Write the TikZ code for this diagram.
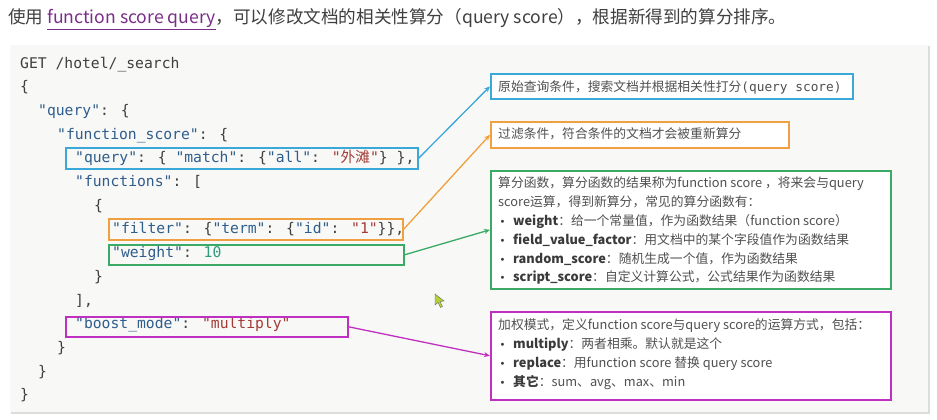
\documentclass[tikz,border=0pt]{standalone}
\usepackage{fontspec}
\setmainfont{Noto Sans CJK SC}
\newfontfamily\codefont{DejaVu Sans Mono}
\newfontfamily\cjkfont{Noto Sans CJK SC}
\newfontfamily\symfont{DejaVu Sans}
\usetikzlibrary{arrows.meta}
\definecolor{panelbg}{HTML}{F8F8F6}
\definecolor{panelshadow}{HTML}{DCDCDA}
\definecolor{keyc}{HTML}{2F5D8C}
\definecolor{punctc}{HTML}{3F3F3F}
\definecolor{strc}{HTML}{A23B36}
\definecolor{numc}{HTML}{2E9A80}
\definecolor{cblue}{HTML}{3AA8D8}
\definecolor{corange}{HTML}{F0A040}
\definecolor{cgreen}{HTML}{3BAA66}
\definecolor{cmag}{HTML}{C030C0}
\definecolor{linkc}{HTML}{7A2E88}
\definecolor{txtc}{HTML}{505050}
\definecolor{boldc}{HTML}{3A3A3A}
\newcommand\codekey[1]{\textcolor{keyc}{#1}}
\newcommand\codestr[1]{\textcolor{strc}{#1}}
\newcommand\codenum[1]{\textcolor{numc}{#1}}
\newcommand\bul{\makebox[15pt][l]{\hspace{1.5pt}\textcolor{boldc}{\symfont\fontsize{10}{12}\selectfont •}}}
\newcommand\bterm[1]{\textcolor{boldc}{\bfseries #1}}
\begin{document}
\begin{tikzpicture}[x=1pt,y=-1pt,
  codeline/.style={anchor=base west, inner sep=0pt, font=\codefont\fontsize{14.7}{18}\selectfont, text=punctc},
  hlbox/.style={draw=#1, line width=1.6pt, anchor=north west, inner sep=0pt},
  notebox/.style={draw=#1, line width=1.6pt, fill=white, anchor=north west, inner sep=0pt},
  notetxt/.style={anchor=base west, inner sep=0pt, font=\fontsize{12.8}{15}\selectfont, text=txtc},
  link/.style={draw=#1, line width=1.3pt, -{Stealth[length=6pt,width=5pt]}},
]
\useasboundingbox (0,0) rectangle (937,420);
\fill[white] (0,0) rectangle (937,420);

% heading
\node[anchor=base west, inner sep=0pt, font=\fontsize{17.6}{20}\selectfont, text=punctc] (head) at (8,23.5)
  {使用 \textcolor{linkc}{\underline{function score query}}，可以修改文档的相关性算分（query score），根据新得到的算分排序。};

% code panel
\fill[panelshadow] (11,46.5) rectangle (929.5,414);
\fill[panelbg] (10,45) rectangle (927.5,412);

% code lines
\node[codeline] (l0) at (20,68) {GET /hotel/\_search};
\node[codeline] (l1) at (20,91.7) {\{};
\node[codeline] (l2) at (38,115.4) {\codekey{"query"}: \{};
\node[codeline] (l3) at (57,139.1) {\codekey{"function\_score"}: \{};
\node[codeline] (l4) at (75,162.8) {\codekey{"query"}: \{ \codekey{"match"}: \{\codekey{"all"}: \codestr{"{\cjkfont 外滩}"}\} \},};
\node[codeline] (l5) at (75,186.5) {\codekey{"functions"}: [};
\node[codeline] (l6) at (94,210.2) {\{};
\node[codeline] (l7) at (112,233.9) {\codekey{"filter"}: \{\codekey{"term"}: \{\codekey{"id"}: \codestr{"1"}\}\},};
\node[codeline] (l8) at (112,257.6) {\codekey{"weight"}: \codenum{10}};
\node[codeline] (l9) at (94,281.3) {\}};
\node[codeline] (l10) at (75,305) {],};
\node[codeline] (l11) at (75,328.7) {\codekey{"boost\_mode"}: \codestr{"multiply"}};
\node[codeline] (l12) at (57,352.4) {\}};
\node[codeline] (l13) at (38,376.1) {\}};
\node[codeline] (l14) at (20,399.8) {\}};

% highlight boxes in code
\node[hlbox=cblue, minimum width=352pt, minimum height=21pt] (qbox) at (65,147) {};
\node[hlbox=corange, minimum width=294pt, minimum height=21pt] (fbox) at (108,218) {};
\node[hlbox=cgreen, minimum width=295pt, minimum height=20pt] (wbox) at (108,244) {};
\node[hlbox=cmag, minimum width=282pt, minimum height=20pt] (bbox) at (65,316) {};

% note boxes
\node[notebox=cblue, minimum width=362pt, minimum height=25pt] (n1) at (490,73) {};
\node[notebox=corange, minimum width=298pt, minimum height=26pt] (n2) at (490,121) {};
\node[notebox=cgreen, minimum width=400pt, minimum height=118pt] (n3) at (490,170) {};
\node[notebox=cmag, minimum width=400pt, minimum height=88pt] (n4) at (490,311) {};

% note texts
\node[notetxt] (t1) at (498,91.8) {原始查询条件，搜索文档并根据相关性打分{\codefont\fontsize{12.8}{15}\selectfont (query score)}};
\node[notetxt] (t2) at (498,138.8) {过滤条件，符合条件的文档才会被重新算分};

\node[notetxt] (g1) at (498,187.8) {算分函数，算分函数的结果称为function score ，将来会与query};
\node[notetxt] (g2) at (498,206.6) {score运算，得到新算分，常见的算分函数有：};
\node[notetxt] (g3) at (498,225.4) {\bul\bterm{weight}：给一个常量值，作为函数结果（function score）};
\node[notetxt] (g4) at (498,244.2) {\bul\bterm{field\_value\_factor}：用文档中的某个字段值作为函数结果};
\node[notetxt] (g5) at (498,263) {\bul\bterm{random\_score}：随机生成一个值，作为函数结果};
\node[notetxt] (g6) at (498,281.8) {\bul\bterm{script\_score}：自定义计算公式，公式结果作为函数结果};

\node[notetxt] (m1) at (498,329.8) {加权模式，定义function score与query score的运算方式，包括：};
\node[notetxt] (m2) at (498,348.8) {\bul\bterm{multiply}：两者相乘。默认就是这个};
\node[notetxt] (m3) at (498,367.8) {\bul\bterm{replace}：用function score 替换 query score};
\node[notetxt] (m4) at (498,386.8) {\bul\bterm{其它}：sum、avg、max、min};

% connectors
\draw[link=cblue] (qbox.east) -- (n1.west);
\draw[link=corange] (fbox.east) -- (n2.west);
\draw[link=cgreen] (wbox.east) -- (n3.west);
\draw[link=cmag] (bbox.east) -- (n4.west);

% mouse cursor
\fill[draw=black!60, fill={rgb,255:red,180;green,210;blue,50}, line width=0.4pt]
  (435,294) -- (435,305) -- (438,302.5) -- (440.5,307.5) -- (442.5,306.5) -- (440,301.5) -- (444,301) -- cycle;
\end{tikzpicture}
\end{document}
